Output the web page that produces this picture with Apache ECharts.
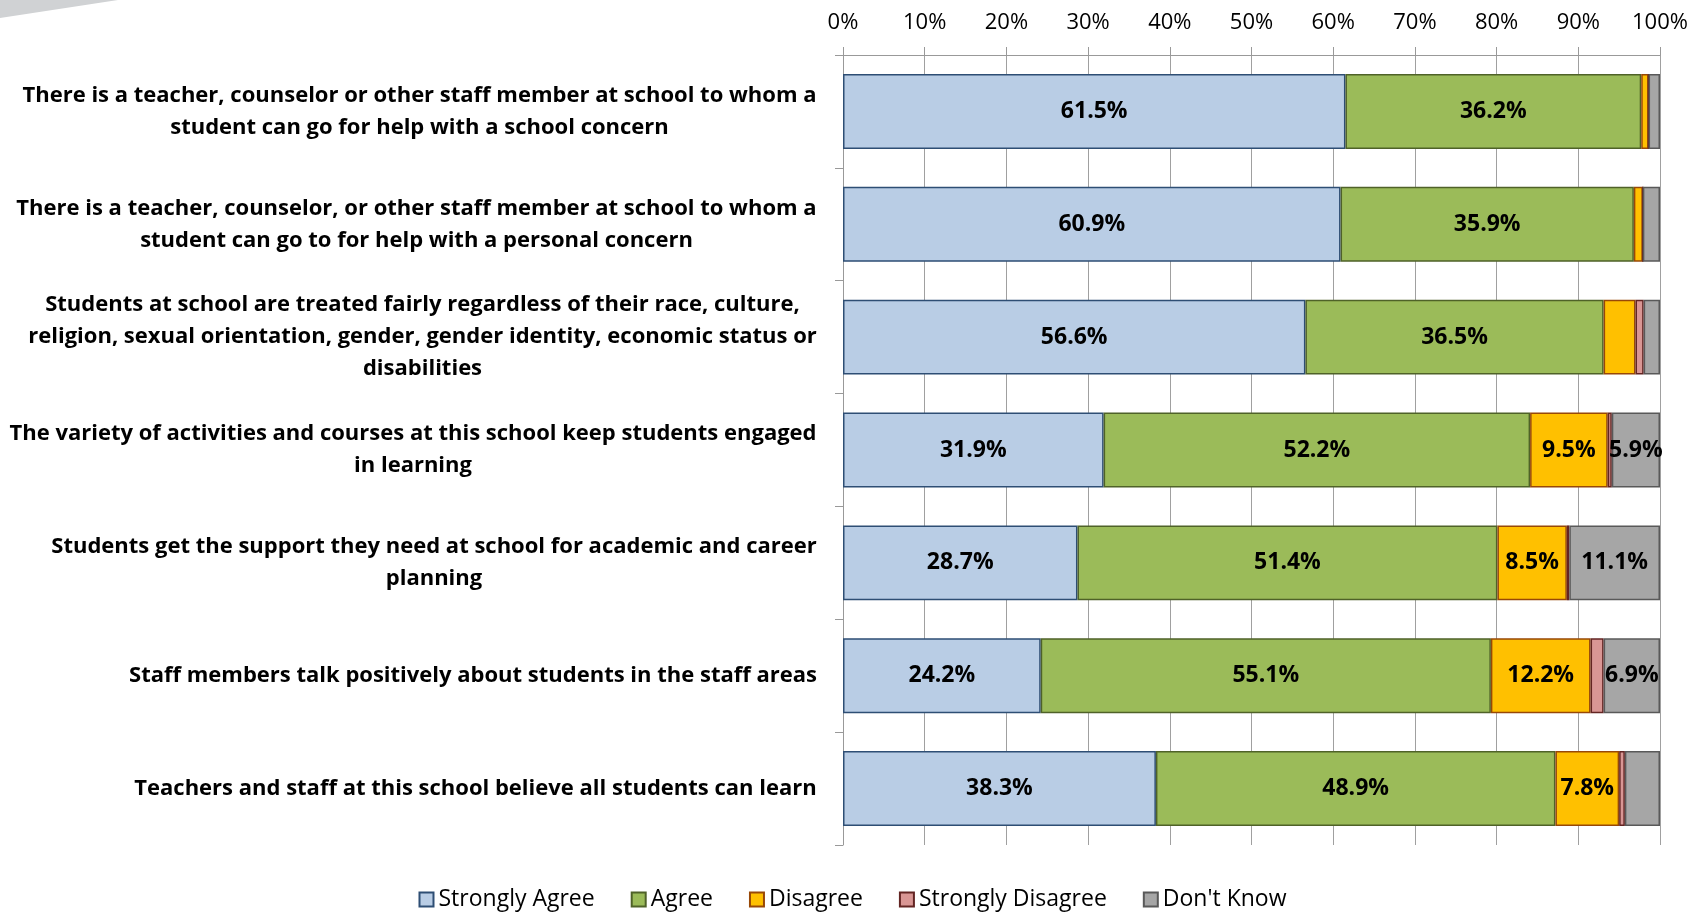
<!DOCTYPE html>
<html><head><meta charset="utf-8">
<script src="https://cdn.jsdelivr.net/npm/echarts@6/dist/echarts.min.js"></script>
<style>html,body{margin:0;padding:0;background:#fff}#c{width:1705px;height:913px}</style>
</head><body><div id="c"></div>
<script>
const categories = [
  "There is a teacher, counselor or other staff member at school to whom a\nstudent can go for help with a school concern",
  "There is a teacher, counselor, or other staff member at school to whom a\nstudent can go to for help with a personal concern",
  "Students at school are treated fairly regardless of their race, culture,\nreligion, sexual orientation, gender, gender identity, economic status or\ndisabilities",
  "The variety of activities and courses at this school keep students engaged\nin learning",
  "Students get the support they need at school for academic and career\nplanning",
  "Staff members talk positively about students in the staff areas",
  "Teachers and staff at this school believe all students can learn"
];
const seriesNames = ["Strongly Agree", "Agree", "Disagree", "Strongly Disagree", "Don't Know"];
const stronglyAgree    = [61.5, 60.9, 56.6, 31.9, 28.7, 24.2, 38.3];
const agree            = [36.2, 35.9, 36.5, 52.2, 51.4, 55.1, 48.9];
const disagree         = [0.9, 1.1, 3.9, 9.5, 8.5, 12.2, 7.8];
const stronglyDisagree = [0.0, 0.0, 1.0, 0.5, 0.3, 1.6, 0.7];
const dontKnow         = [1.4, 2.1, 2.0, 5.9, 11.1, 6.9, 4.3];
const xTicks = [0, 10, 20, 30, 40, 50, 60, 70, 80, 90, 100];

const FONT = "'Open Sans', sans-serif";
const CAT_SIZE = 22;
const fills   = ["#B9CDE5", "#9BBB59", "#FFC000", "#D99694", "#A6A6A6"];
const borders = ["#2E4E74", "#4F6228", "#984807", "#632523", "#595959"];
const values  = [stronglyAgree, agree, disagree, stronglyDisagree, dontKnow];

// measure label blocks so lines are centred inside a right-aligned block
const cv = document.createElement('canvas').getContext('2d');
cv.font = "bold " + CAT_SIZE + "px " + FONT;
const rich = {};
categories.forEach((c, i) => {
  const w = Math.max(...c.split("\n").map(l => cv.measureText(l).width));
  rich['c' + i] = {width: Math.ceil(w) + 2, align: 'center', fontFamily: FONT, fontWeight: 'bold',
                   fontSize: CAT_SIZE, lineHeight: 32, color: '#000'};
});

const chart = echarts.init(document.getElementById('c'), null, {renderer: 'canvas'});
chart.setOption({
  animation: false,
  backgroundColor: '#fff',
  graphic: [{type: 'polygon', shape: {points: [[0,0],[118,0],[0,18]]}, style: {fill: '#D0D2D4'}, silent: true}],
  grid: {left: 843, right: 45, top: 55, bottom: 68},
  legend: {
    top: 883, left: 'center', itemWidth: 14, itemHeight: 14, itemGap: 36,
    icon: 'rect',
    textStyle: {fontFamily: FONT, fontSize: 23, color: '#000'},
    data: seriesNames
  },
  xAxis: {
    type: 'value', position: 'top', min: 0, max: 100, interval: 10,
    axisLine: {show: true, lineStyle: {color: '#999', width: 1}},
    axisTick: {show: true, length: 8, lineStyle: {color: '#999'}},
    axisLabel: {formatter: v => v + '%', fontFamily: FONT, fontSize: 22, color: '#000', margin: 21},
    splitLine: {show: true, lineStyle: {color: '#A0A0A0', width: 1}}
  },
  yAxis: {
    type: 'category', inverse: true, data: categories,
    axisLine: {show: true, lineStyle: {color: '#999'}},
    axisTick: {show: true, length: 8, lineStyle: {color: '#999'}},
    axisLabel: {
      margin: 25,
      formatter: (v, i) => v.split("\n").map(l => '{c' + i + '|' + l + '}').join("\n"),
      rich: rich
    }
  },
  series: seriesNames.map((n, k) => ({
    name: n, type: 'bar', stack: 'total', barWidth: '66.4%',
    data: values[k],
    itemStyle: {color: fills[k], borderColor: borders[k], borderWidth: 1.5},
    label: {
      show: true, position: 'inside', fontFamily: FONT, fontWeight: 'bold', fontSize: 23, color: '#000',
      formatter: p => p.value >= 5 ? p.value.toFixed(1) + '%' : ''
    }
  }))
});
</script></body></html>
